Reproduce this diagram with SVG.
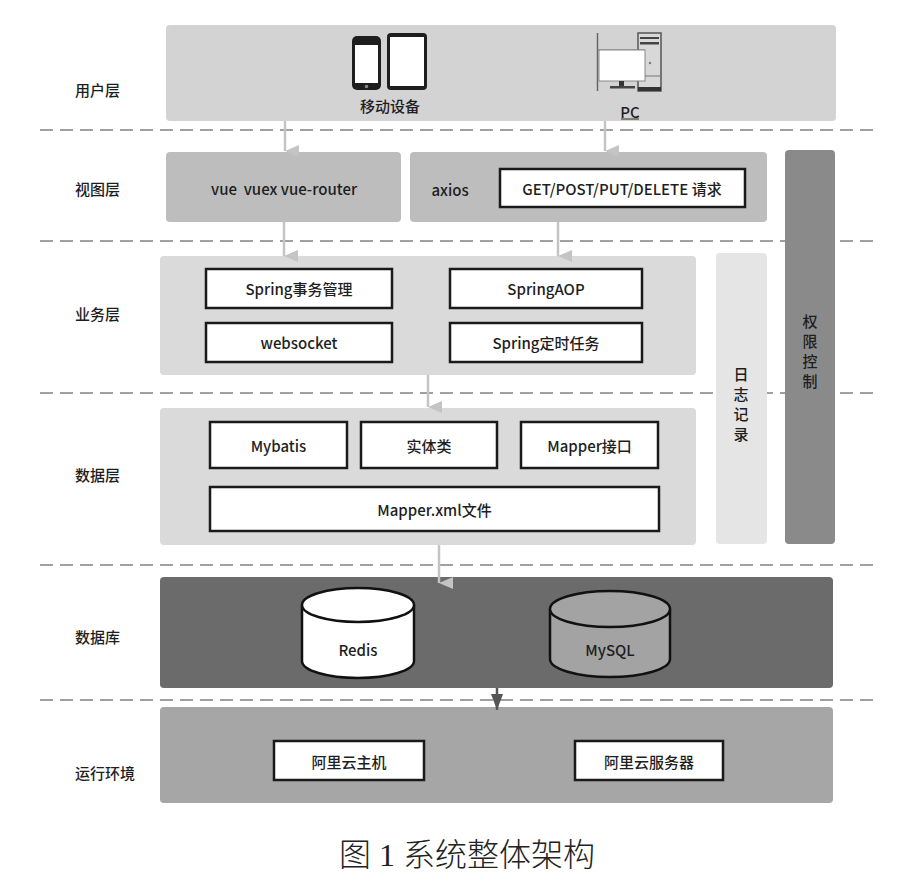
<svg xmlns="http://www.w3.org/2000/svg" width="917" height="882" viewBox="0 0 917 882">
<defs>
<style>
.t{font-family:"Noto Sans CJK SC","Liberation Sans",sans-serif;font-size:15px;font-weight:500;fill:#1e1e1e;text-anchor:middle;dominant-baseline:central}
.lbl{font-family:"Noto Sans CJK SC","Liberation Sans",sans-serif;font-size:15px;font-weight:500;fill:#1e1e1e;dominant-baseline:central}
.box{fill:#fff;stroke:#1a1a1a;stroke-width:2.5}
.dash{stroke:#a0a0a0;stroke-width:2;stroke-dasharray:13 7;fill:none}
.arr{stroke:#c4c4c4;stroke-width:2.5;fill:none}
.cyl{stroke:#111;stroke-width:2.5}
</style>
<marker id="ah" viewBox="0 0 12 14" refX="6" refY="14" markerWidth="12" markerHeight="14" markerUnits="userSpaceOnUse" orient="auto-start-reverse">
<path d="M0,0 L12,0 L6,14 Z" fill="#c4c4c4"/>
</marker>
<marker id="ahd" viewBox="0 0 12 16" refX="6" refY="16" markerWidth="12" markerHeight="16" markerUnits="userSpaceOnUse">
<path d="M0,0 L12,0 L6,16 Z" fill="#555"/>
</marker>
</defs>
<rect width="917" height="882" fill="#fff"/>

<g id="dashes">
<line class="dash" x1="40" y1="130" x2="880" y2="130"/>
<line class="dash" x1="40" y1="241" x2="880" y2="241"/>
<line class="dash" x1="40" y1="393" x2="880" y2="393"/>
<line class="dash" x1="40" y1="565" x2="880" y2="565"/>
<line class="dash" x1="40" y1="700" x2="880" y2="700"/>
</g>

<g id="layer-labels">
<text class="lbl" x="75" y="89">用户层</text>
<text class="lbl" x="75" y="188">视图层</text>
<text class="lbl" x="75" y="313">业务层</text>
<text class="lbl" x="75" y="474">数据层</text>
<text class="lbl" x="75" y="636">数据库</text>
<text class="lbl" x="75" y="772">运行环境</text>
</g>

<g id="user-layer">
<rect x="166" y="25" width="670" height="96" rx="4" fill="#d3d3d3"/>
<g id="mobile">
<rect x="352" y="36" width="29" height="54" rx="5" fill="#1e1e1e"/>
<rect x="355" y="45" width="23" height="38" fill="#fff"/>
<circle cx="366.5" cy="86.5" r="1.8" fill="#888"/>
<rect x="387" y="33" width="40" height="57" rx="4" fill="#1e1e1e"/>
<rect x="390" y="37" width="34" height="49" fill="#fff"/>
<text class="t" x="390" y="105">移动设备</text>
</g>
<g id="pc">
<line x1="597.5" y1="33" x2="597.5" y2="91" stroke="#666" stroke-width="1.5"/>
<rect x="638" y="33" width="23" height="58" fill="#d8d8d8" stroke="#555" stroke-width="1.5"/>
<rect x="640" y="37" width="19" height="2" fill="#444"/>
<rect x="640" y="42" width="19" height="2.5" fill="#444"/>
<line x1="639" y1="76" x2="660" y2="76" stroke="#777" stroke-width="1"/>
<rect x="638" y="87" width="23" height="4" fill="#333"/>
<circle cx="650" cy="63" r="1.2" fill="#777"/>
<line x1="597.5" y1="50" x2="645" y2="50" stroke="#777" stroke-width="1"/>
<rect x="599" y="50" width="46" height="31" fill="#fff" stroke="#888" stroke-width="1"/>
<rect x="619" y="81" width="5" height="6" fill="#333"/>
<rect x="610" y="86" width="25" height="2.5" fill="#444"/>
<text class="t" x="630" y="111">PC</text>
<line x1="621" y1="119" x2="639" y2="119" stroke="#2a2a2a" stroke-width="1"/>
</g>
</g>

<g id="view-layer">
<rect x="166" y="152" width="235" height="70" rx="4" fill="#bdbdbd"/>
<text class="t" x="284" y="188" xml:space="preserve">vue  vuex vue-router</text>
<rect x="410" y="152" width="357" height="70" rx="4" fill="#bdbdbd"/>
<text class="t" x="450" y="189">axios</text>
<rect class="box" x="500" y="169" width="245" height="38"/>
<text class="t" x="622" y="188">GET/POST/PUT/DELETE 请求</text>
</g>

<g id="auth">
<rect x="785" y="150" width="50" height="394" rx="4" fill="#8a8a8a"/>
<text class="t" x="810" y="320">权</text>
<text class="t" x="810" y="340">限</text>
<text class="t" x="810" y="360">控</text>
<text class="t" x="810" y="380">制</text>
</g>

<g id="log">
<rect x="716" y="253" width="51" height="291" rx="4" fill="#e5e5e5"/>
<text class="t" x="741" y="373">日</text>
<text class="t" x="741" y="393">志</text>
<text class="t" x="741" y="413">记</text>
<text class="t" x="741" y="433">录</text>
</g>

<g id="business-layer">
<rect x="160" y="256" width="536" height="119" rx="4" fill="#dadada"/>
<rect class="box" x="206" y="269" width="186" height="39"/>
<text class="t" x="299" y="288.5">Spring事务管理</text>
<rect class="box" x="450" y="269" width="192" height="39"/>
<text class="t" x="546" y="288.5">SpringAOP</text>
<rect class="box" x="206" y="323" width="186" height="39"/>
<text class="t" x="299" y="342.5">websocket</text>
<rect class="box" x="450" y="323" width="192" height="39"/>
<text class="t" x="546" y="342.5">Spring定时任务</text>
</g>

<g id="data-layer">
<rect x="160" y="408" width="536" height="137" rx="4" fill="#dadada"/>
<rect class="box" x="210" y="422" width="137" height="46"/>
<text class="t" x="278.5" y="445">Mybatis</text>
<rect class="box" x="361" y="422" width="136" height="46"/>
<text class="t" x="429" y="445">实体类</text>
<rect class="box" x="521" y="422" width="137" height="46"/>
<text class="t" x="589.5" y="445">Mapper接口</text>
<rect class="box" x="210" y="487" width="449" height="44"/>
<text class="t" x="434.5" y="509">Mapper.xml文件</text>
</g>

<g id="database-layer">
<rect x="160" y="577" width="673" height="111" rx="4" fill="#6b6b6b"/>
<g id="redis">
<path class="cyl" d="M302,605 L302,661 A56,17 0 0 0 414,661 L414,605" fill="#fff"/>
<ellipse class="cyl" cx="358" cy="605" rx="56" ry="17" fill="#fff"/>
<text class="t" x="358" y="649">Redis</text>
</g>
<g id="mysql">
<path class="cyl" d="M550,609 L550,659 A60,18 0 0 0 670,659 L670,609" fill="#a3a3a3"/>
<ellipse class="cyl" cx="610" cy="609" rx="60" ry="18" fill="#a3a3a3"/>
<text class="t" x="610" y="649">MySQL</text>
</g>
</g>

<g id="env-layer">
<rect x="160" y="707" width="673" height="96" rx="4" fill="#a6a6a6"/>
<rect class="box" x="274" y="741" width="150" height="39"/>
<text class="t" x="349" y="761">阿里云主机</text>
<rect class="box" x="575" y="741" width="148" height="39"/>
<text class="t" x="649" y="761">阿里云服务器</text>
</g>

<g id="connectors">
<line class="arr" x1="285" y1="121" x2="285" y2="151" marker-end="url(#ah)"/>
<line class="arr" x1="605" y1="121" x2="605" y2="151" marker-end="url(#ah)"/>
<line class="arr" x1="284" y1="222" x2="284" y2="256" marker-end="url(#ah)"/>
<line class="arr" x1="558" y1="222" x2="558" y2="256" marker-end="url(#ah)"/>
<line class="arr" x1="428" y1="375" x2="428" y2="407" marker-end="url(#ah)"/>
<line class="arr" x1="439" y1="545" x2="439" y2="583" marker-end="url(#ah)"/>
<line x1="497" y1="688" x2="497" y2="710" stroke="#555" stroke-width="2.5" marker-end="url(#ahd)"/>
</g>

<text x="467" y="866" font-family="Liberation Serif,Noto Sans CJK SC,serif" font-size="32" font-weight="300" fill="#222" text-anchor="middle">图 1 系统整体架构</text>
</svg>
